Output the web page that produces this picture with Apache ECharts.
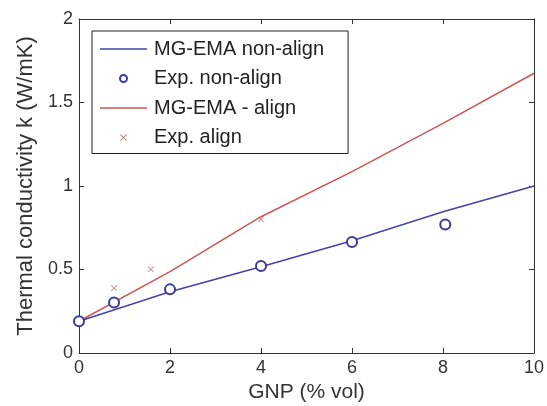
<!DOCTYPE html>
<html>
<head>
<meta charset="utf-8">
<script src="https://cdn.jsdelivr.net/npm/echarts@6/dist/echarts.min.js"></script>
<style>
  html, body { margin: 0; padding: 0; background: #fff; }
  #chart { width: 547px; height: 406px; }
</style>
</head>
<body>
<div id="chart"></div>
<script>
// model curves
const modelX = [0, 2, 4, 6, 8, 10]
const modelNonAlign = [0.19, 0.367, 0.517, 0.672, 0.846, 1.0]
const modelAlign = [0.19, 0.487, 0.816, 1.086, 1.375, 1.675]

// measured points
const expNonAlignX = [0, 0.77, 2, 4, 6, 8.05]
const expNonAlignY = [0.19, 0.303, 0.381, 0.521, 0.665, 0.77]
const expAlignX = [0, 0.77, 1.58, 4]
const expAlignY = [0.19, 0.389, 0.501, 0.80]

const seriesNames = ['MG-EMA non-align', 'Exp. non-align', 'MG-EMA - align', 'Exp. align']

const xTicks = [0, 2, 4, 6, 8, 10]
const yTicks = [0, 0.5, 1, 1.5, 2]

const pairs = (xs, ys) => xs.map((x, i) => [x, ys[i]])

const font = 'Liberation Sans, Arial, sans-serif'
const axisColor = '#333'
const blue = '#4444a6'
const red = '#cc5656'
const crossPath = 'path://M0,1 L1,0 L5,4 L9,0 L10,1 L6,5 L10,9 L9,10 L5,6 L1,10 L0,9 L4,5 Z'
const linePath = 'path://M0,0 L47,0 L47,1.5 L0,1.5 Z'

const chart = echarts.init(document.getElementById('chart'))

const baseAxis = {
  type: 'value',
  axisLine: { show: true, onZero: false, lineStyle: { color: axisColor, width: 1 } },
  axisTick: { show: true, inside: true, length: 5, lineStyle: { color: axisColor } },
  splitLine: { show: false }
}

chart.setOption({
  backgroundColor: '#fff',
  animation: false,
  grid: { left: 79, right: 13, top: 19, bottom: 53, containLabel: false, outerBoundsMode: 'none' },
  legend: {
    orient: 'vertical',
    left: 92,
    top: 31,
    padding: [8, 24, 6, 8],
    backgroundColor: '#fff',
    borderColor: '#222',
    borderWidth: 1,
    borderRadius: 0,
    itemWidth: 47,
    itemHeight: 7,
    itemGap: 9.5,
    textStyle: { fontFamily: font, fontSize: 20, lineHeight: 20, color: '#222', padding: [0, 0, 0, 2] },
    data: [
      { name: seriesNames[0], icon: linePath, itemStyle: { color: blue } },
      { name: seriesNames[1] },
      { name: seriesNames[2], icon: linePath, itemStyle: { color: red } },
      { name: seriesNames[3] }
    ]
  },
  xAxis: [
    {
      ...baseAxis,
      min: 0, max: 10, interval: 2,
      name: 'GNP (% vol)',
      nameLocation: 'middle',
      nameGap: 27,
      nameTextStyle: { fontFamily: font, fontSize: 21, color: axisColor },
      axisLabel: {
        fontFamily: font, fontSize: 18, color: axisColor, margin: 6,
        formatter: v => xTicks.includes(v) ? String(v) : ''
      }
    },
    {
      ...baseAxis,
      position: 'top',
      min: 0, max: 10, interval: 2,
      axisLabel: { show: false }
    }
  ],
  yAxis: [
    {
      ...baseAxis,
      min: 0, max: 2, interval: 0.5,
      name: 'Thermal conductivity k (W/mK)',
      nameLocation: 'middle',
      nameGap: 38,
      nameTextStyle: { fontFamily: font, fontSize: 22, color: axisColor },
      axisLabel: {
        fontFamily: font, fontSize: 18, color: axisColor, margin: 6,
        formatter: v => yTicks.includes(v) ? String(v) : ''
      }
    },
    {
      ...baseAxis,
      position: 'right',
      min: 0, max: 2, interval: 0.5,
      axisLabel: { show: false }
    }
  ],
  series: [
    {
      name: seriesNames[0],
      type: 'line',
      symbol: 'none',
      lineStyle: { color: blue, width: 1.5 },
      itemStyle: { color: blue },
      data: pairs(modelX, modelNonAlign),
      z: 2
    },
    {
      name: seriesNames[1],
      type: 'scatter',
      symbol: 'emptyCircle',
      symbolSize: 10,
      itemStyle: { color: '#3a3a9c', borderWidth: 1.2, opacity: 1 },
      data: pairs(expNonAlignX, expNonAlignY),
      z: 4
    },
    {
      name: seriesNames[2],
      type: 'line',
      symbol: 'none',
      lineStyle: { color: red, width: 1.5 },
      itemStyle: { color: red },
      data: pairs(modelX, modelAlign),
      z: 1
    },
    {
      name: seriesNames[3],
      type: 'scatter',
      symbol: crossPath,
      symbolSize: 6,
      itemStyle: { color: '#a86a6a' },
      data: pairs(expAlignX, expAlignY),
      z: 3
    }
  ]
})
</script>
</body>
</html>
